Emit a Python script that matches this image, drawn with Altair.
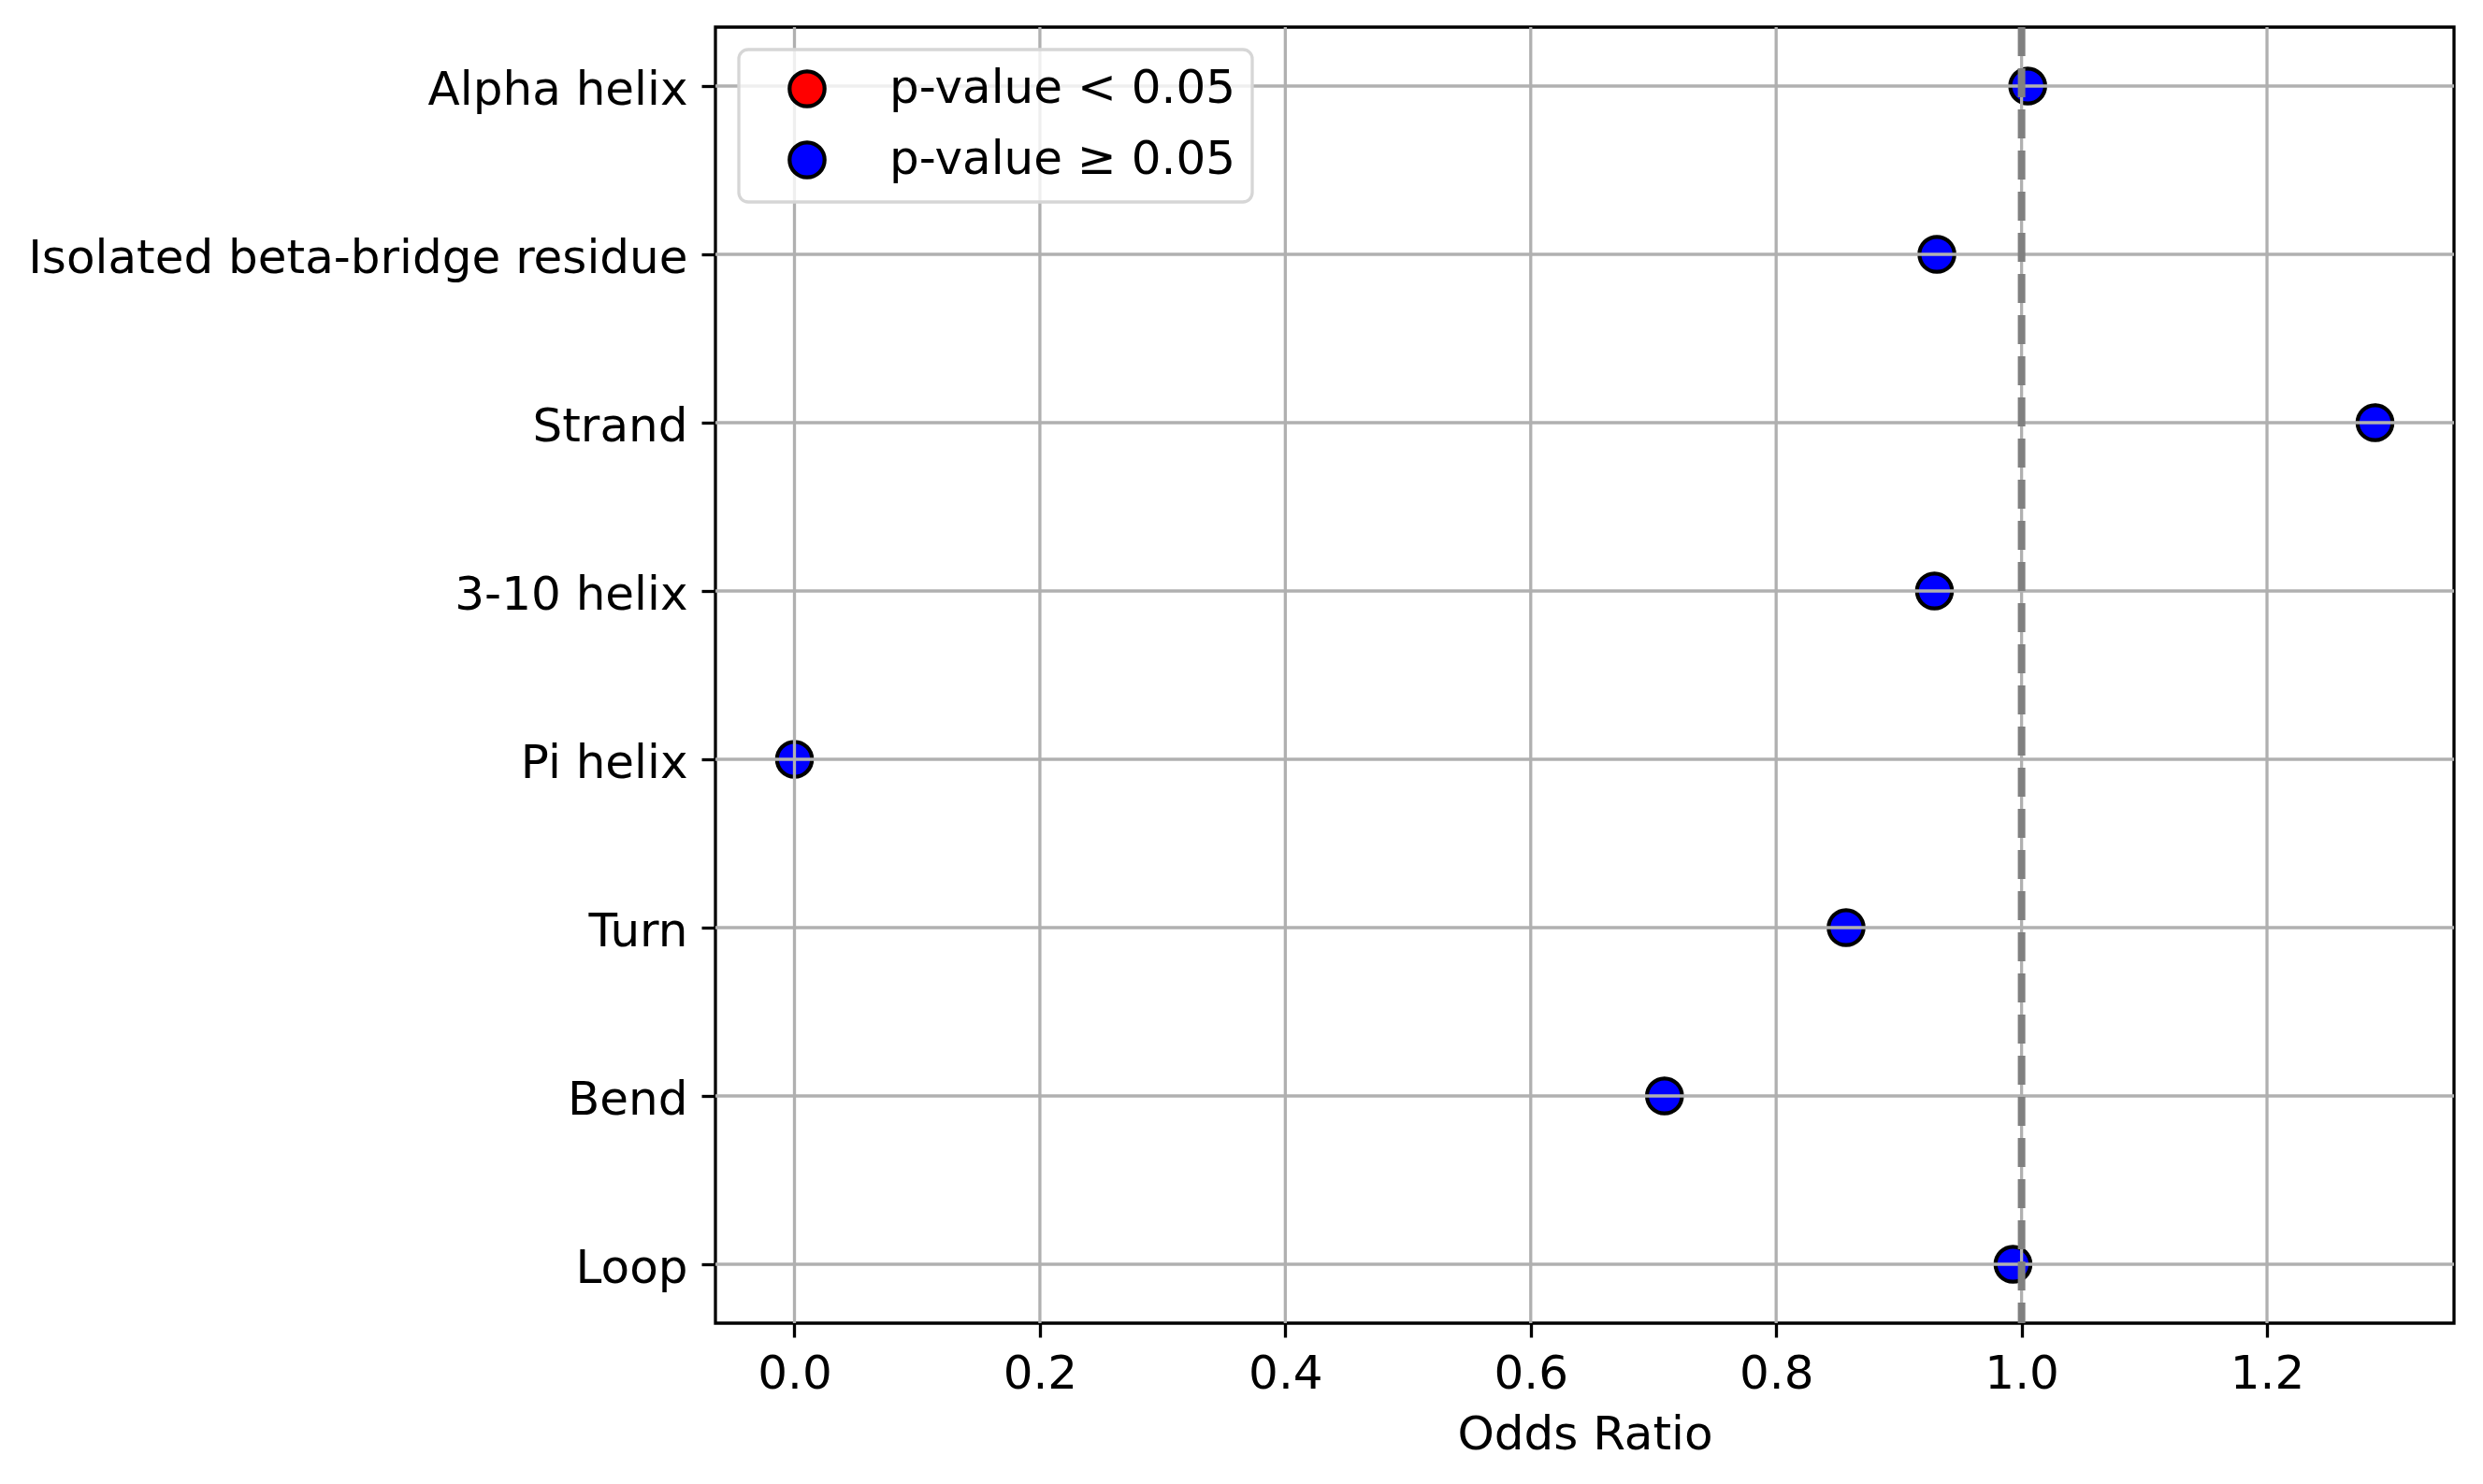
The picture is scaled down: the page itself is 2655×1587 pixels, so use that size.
import altair as alt
import pandas as pd

categories = ["Alpha helix", "Isolated beta-bridge residue", "Strand", "3-10 helix",
              "Pi helix", "Turn", "Bend", "Loop"]
odds_ratio = [1.005, 0.931, 1.288, 0.929, 0.0, 0.857, 0.709, 0.993]
significance = ["p-value \u2265 0.05"] * 8
legend_labels = ["p-value < 0.05", "p-value \u2265 0.05"]
legend_colors = ["red", "blue"]
x_ticks = [0.0, 0.2, 0.4, 0.6, 0.8, 1.0, 1.2]
ref_value = [1.0]

df = pd.DataFrame({"category": categories, "odds": odds_ratio, "sig": significance})
grid_x = pd.DataFrame({"t": x_ticks})
ref_df = pd.DataFrame({"v": ref_value})

FONT = "DejaVu Sans"
xscale = alt.Scale(domain=[-0.0644, 1.3524], nice=False, zero=False)
yscale = alt.Scale(type="point", padding=0.35, domain=categories)

points = alt.Chart(df).mark_point(
    filled=True, shape="circle", size=1400, stroke="black", strokeWidth=4.2, opacity=1
).encode(
    x=alt.X("odds:Q", scale=xscale,
            axis=alt.Axis(values=x_ticks, format=".1f", title="Odds Ratio", grid=False)),
    y=alt.Y("category:N", scale=yscale, sort=categories,
            axis=alt.Axis(title=None, grid=False, labelLimit=0, labelOffset=4)),
    color=alt.Color("sig:N",
                    scale=alt.Scale(domain=legend_labels, range=legend_colors),
                    legend=alt.Legend(title=None, orient="none", legendX=25, legendY=24)),
)

hgrid = alt.Chart(df).mark_rule(color="#b0b0b0", strokeWidth=3.3).encode(
    y=alt.Y("category:N", scale=yscale, sort=categories)
)
vgrid = alt.Chart(grid_x).mark_rule(color="#b0b0b0", strokeWidth=3.3).encode(
    x=alt.X("t:Q", scale=xscale)
)
ref = alt.Chart(ref_df).mark_rule(color="gray", strokeWidth=8, strokeDash=[31, 13]).encode(
    x=alt.X("v:Q", scale=xscale)
)

chart = alt.layer(points, hgrid, vgrid, ref).properties(
    width=1859, height=1386,
    autosize=alt.AutoSizeParams(type="none"),
    padding={"left": 757, "top": 21, "right": 20, "bottom": 150},
).configure_view(
    stroke="black", strokeWidth=3.3
).configure_axis(
    labelFont=FONT, titleFont=FONT, labelFontSize=50, titleFontSize=50,
    labelColor="black", titleColor="black", titleFontWeight="normal",
    tickColor="black", tickWidth=3.3, tickSize=15,
    domain=False, labelPadding=14, labelLimit=0,
).configure_axisX(
    titlePadding=15,
).configure_axisY(
    labelPadding=15,
).configure_legend(
    labelFont=FONT, labelFontSize=50, labelColor="black", labelLimit=0,
    symbolType="circle", symbolSize=1400, symbolStrokeColor="black", symbolStrokeWidth=4.2,
    symbolOffset=31, labelOffset=63, padding=17, rowPadding=20,
    strokeColor="#d6d6d6", strokeWidth=3.3, cornerRadius=10,
    fillColor="rgba(255,255,255,0.8)",
)

chart.save("out.html", embed_options={"renderer": "svg", "actions": False})
